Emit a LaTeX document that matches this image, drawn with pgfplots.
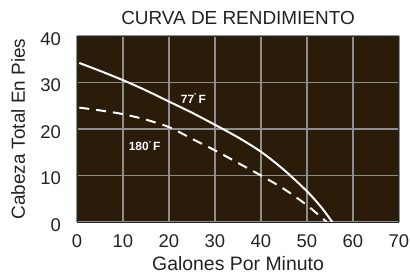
\documentclass[border=0pt]{standalone}
\usepackage{pgfplots}
\pgfplotsset{compat=1.18}
\usepackage{fontspec}
\setmainfont{Liberation Sans}
\definecolor{bgbrown}{HTML}{2B1B09}
\definecolor{gridgray}{HTML}{8E8E8E}
\definecolor{txt}{HTML}{222222}
\begin{document}
\begin{tikzpicture}[x=1bp,y=1bp]
\useasboundingbox (-77bp,-53bp) rectangle (333bp,222bp);
\begin{axis}[
  at={(0,0)}, anchor=south west,
  scale only axis, width=322bp, height=186bp,
  xmin=0, xmax=70, ymin=0, ymax=40,
  xtick={0,10,...,70}, ytick={0,10,...,40},
  axis background/.style={fill=bgbrown},
  axis line style={draw=black!85, line width=1pt},
  grid=major, major grid style={draw=gridgray, line width=1.4pt},
  tick style={draw=none},
  /pgf/number format/assume math mode=true,
  ticklabel style={font=\fontsize{18.5}{20}\selectfont, text=txt, inner sep=0pt},
  xticklabel style={anchor=base, yshift=-25bp},
  yticklabel style={anchor=east, xshift=-16bp, yshift=-3bp},
  clip=true,
]
\addplot[white, line width=2pt, smooth] coordinates {
  (0.5,34.2) (5,32.5) (10,30.5) (15,28.3) (20,25.9) (25,23.5) (30,20.9) (35,18.2) (40,15.1) (45,11.2) (50,6.6) (53,3.3) (55.5,0)
};
\addplot[white, line width=2pt, dash pattern=on 10bp off 7bp, smooth] coordinates {
  (0.5,24.6) (5,24.0) (10,23.2) (15,22.0) (20,20.4) (25,17.9) (30,15.4) (35,12.7) (40,10.0) (45,7.1) (50,3.6) (54.3,0)
};
\node[font=\bfseries\fontsize{12}{14}\selectfont, text=white] at (axis cs:25.3,26.6) {77\raisebox{0.45em}{\fontsize{6}{7}\selectfont\textdegree}\,F};
\node[font=\bfseries\fontsize{12}{14}\selectfont, text=white] at (axis cs:14.7,16.4) {180\raisebox{0.45em}{\fontsize{6}{7}\selectfont\textdegree}\,F};
\end{axis}
\node[anchor=base, font=\fontsize{19}{21}\selectfont, text=txt, inner sep=0pt] at (161bp,197.5bp) {CURVA DE RENDIMIENTO};
\node[anchor=base, font=\fontsize{19.5}{22}\selectfont, text=txt, inner sep=0pt] at (161bp,-48.5bp) {Galones Por Minuto};
\node[anchor=center, rotate=90, font=\fontsize{19}{22}\selectfont, text=txt, inner sep=0pt] at (-59bp,93bp) {Cabeza Total En Pies};
\end{tikzpicture}
\end{document}
